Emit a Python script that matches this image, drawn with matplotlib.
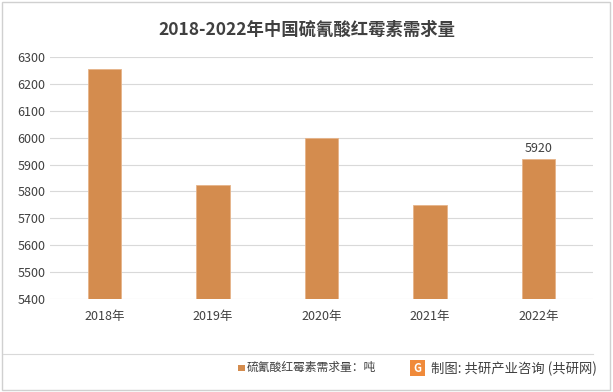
import matplotlib
matplotlib.use("Agg")
import matplotlib.pyplot as plt
from matplotlib.patches import Rectangle, Polygon

plt.rcParams['font.family'] = ['Noto Sans CJK SC', 'DejaVu Sans']

# data
years = ["2018年", "2019年", "2020年", "2021年", "2022年"]
demand = [6255, 5825, 6000, 5748, 5920]
title = "2018-2022年中国硫氰酸红霉素需求量"
legend_label = "硫氰酸红霉素需求量：吨"
source = "制图: 共研产业咨询 (共研网)"

bar_color = "#D48C4E"
text_color = "#404040"

fig = plt.figure(figsize=(6.13, 3.92), dpi=100)
ax = fig.add_axes([0.082, 0.237, 0.885, 0.618])

x = range(len(years))
bars = ax.bar(x, demand, width=0.31, color=bar_color, edgecolor="#E6B48A",
              linewidth=0.6, zorder=3)
ax.set_ylim(5400, 6300)
ax.set_xlim(-0.5, len(years) - 0.5)
ax.set_yticks(range(5400, 6301, 100))
ax.set_xticks(list(x))
ax.set_xticklabels(years)
ax.tick_params(axis='both', length=0, labelsize=9, colors=text_color)
ax.tick_params(axis='x', pad=8)
ax.grid(axis='y', color="#D9D9D9", linewidth=0.8, zorder=0)
for s in ax.spines.values():
    s.set_visible(False)

# label only the last bar
ax.text(x[-1], demand[-1] + 15, str(demand[-1]), ha='center', va='bottom',
        fontsize=9, color=text_color)

fig.text(0.5, 0.925, title, ha='center', va='center', fontsize=12.5,
         fontweight='bold', color=text_color)

# outer frame
fig.add_artist(Rectangle((0.003, 0.005), 0.992, 0.99, transform=fig.transFigure,
                         fill=False, edgecolor="#D0D0D0", linewidth=1))
# separator line above footer
fig.add_artist(plt.Line2D([0.005, 0.968], [0.098, 0.098], transform=fig.transFigure,
                          color="#D9D9D9", linewidth=0.8))

# legend
fig.add_artist(Rectangle((0.388, 0.053), 0.011, 0.017, transform=fig.transFigure,
                         facecolor=bar_color, edgecolor='none'))
fig.text(0.403, 0.062, legend_label, ha='left', va='center', fontsize=8.5,
         color=text_color)

# logo
fig.add_artist(Polygon([(0.669, 0.04), (0.693, 0.04), (0.693, 0.082), (0.669, 0.082)],
                       closed=True, transform=fig.transFigure,
                       facecolor="#F08A3A", edgecolor='none'))
fig.text(0.681, 0.061, "G", ha='center', va='center', fontsize=8,
         fontweight='bold', color='white')
fig.text(0.703, 0.058, source, ha='left', va='center', fontsize=9.6,
         color=text_color)

fig.savefig("out.png", dpi=100)
